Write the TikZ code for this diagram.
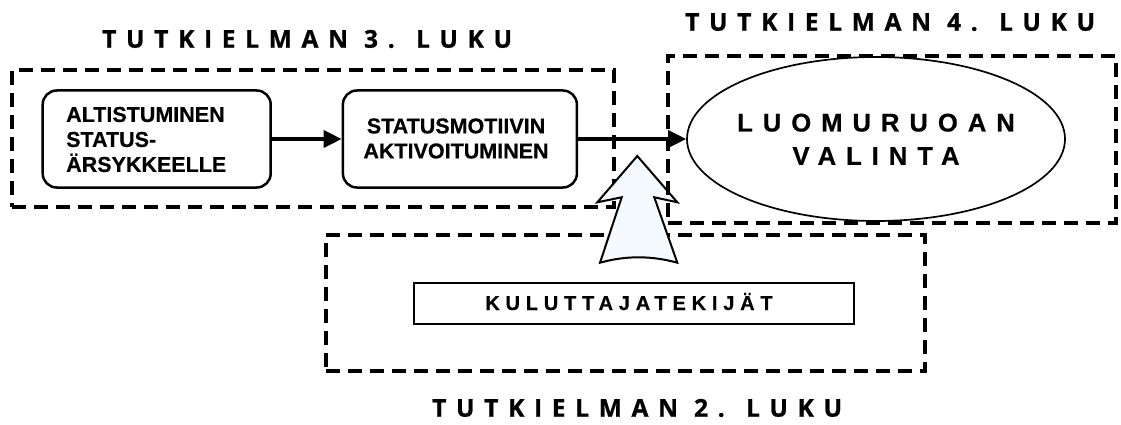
\documentclass[tikz,border=0pt]{standalone}
\usepackage{fontspec}
\setmainfont{Liberation Sans}[BoldFont={Liberation Sans Bold}]
\usetikzlibrary{arrows.meta,shapes.geometric}
\newfontfamily\titlefont{Open Sans Bold}[LetterSpace=39.5,FakeBold=0.8]
\newfontfamily\spacedfont{Liberation Sans Bold}[LetterSpace=39,FakeBold=0.6]
\newfontfamily\kulfont{Liberation Sans Bold}[LetterSpace=29,FakeBold=0.5]
\newfontfamily\boxfont{Liberation Sans Bold}[FakeBold=0.5]
\definecolor{arrowfill}{HTML}{F4FAFD}
\begin{document}
\begin{tikzpicture}[x=1pt,y=-1pt]
\tikzset{
  chapter/.style={draw, line width=4pt, dash pattern=on 14pt off 8pt, inner sep=0pt},
  chaptertitle/.style={font=\titlefont\fontsize{24.5}{30}\selectfont, inner sep=0pt, anchor=base west},
  stepbox/.style={draw, line width=2.5pt, rounded corners=14pt, minimum height=97pt, inner sep=0pt},
  boxtext/.style={font=\boxfont\fontsize{21.5}{25}\selectfont, align=left, inner sep=0pt},
  conn/.style={line width=3.3pt, -{Triangle[length=18pt,width=17pt]}},
  goal/.style={draw, ellipse, line width=1.7pt, minimum width=378pt, minimum height=164pt, inner sep=0pt},
  goaltext/.style={font=\spacedfont\fontsize{25.6}{33.3}\selectfont, align=center, inner sep=0pt},
  factor/.style={draw, line width=2.2pt, minimum width=440pt, minimum height=41pt, inner sep=0pt},
  factortext/.style={font=\kulfont\fontsize{20}{24}\selectfont, inner sep=0pt, anchor=base},
  bigarrow/.style={draw, line width=2pt, fill=arrowfill, line join=miter}
}
\useasboundingbox (0,0) rectangle (1121,425);
% chapter frames (2 and 3 below the block arrow)
\node[chapter, minimum width=602pt, minimum height=137pt] (ch3) at (313,138.5) {};
\node[chapter, minimum width=599pt, minimum height=136pt] (ch2) at (625.5,303) {};
% titles
\node[chaptertitle] (t3) at (102,47.7) {TUTKIELMAN 3. LUKU};
\node[chaptertitle] (t4) at (685,30.7) {TUTKIELMAN 4. LUKU};
\node[chaptertitle] (t2) at (432,416.7) {TUTKIELMAN 2. LUKU};
% steps
\node[stepbox, minimum width=228pt] (a) at (156.7,139) {};
\node[boxtext, anchor=west] (atext) at (66,139.5) {ALTISTUMINEN\\STATUS-\\ÄRSYKKEELLE};
\node[stepbox, minimum width=234pt] (b) at (459.9,139) {};
\node[boxtext, align=center] (btext) at (456,138.5) {STATUSMOTIIVIN\\AKTIVOITUMINEN};
\node[goal] (e) at (876,139) {};
\node[goaltext] (etext) at (876,139.2) {LUOMURUOAN\\VALINTA};
\node[factor] (k) at (634,303.4) {};
\node[factortext] (ktext) at (629,310) {KULUTTAJATEKIJÄT};
% connectors
\draw[conn] (a.east) -- (b.west);
\draw[conn] (b.east) -- (e.west);
% big block arrow
\draw[bigarrow] (637.3,156) -- (677.3,202.3) -- (654.3,197.3) -- (677.3,262.7)
  .. controls (651,255.5) and (626,255.5) .. (600,262.7) -- (621.7,197.3) -- (597.3,202.3) -- cycle;
% chapter 4 frame on top
\node[chapter, minimum width=448pt, minimum height=167pt] (ch4) at (892,139.5) {};
\end{tikzpicture}
\end{document}
